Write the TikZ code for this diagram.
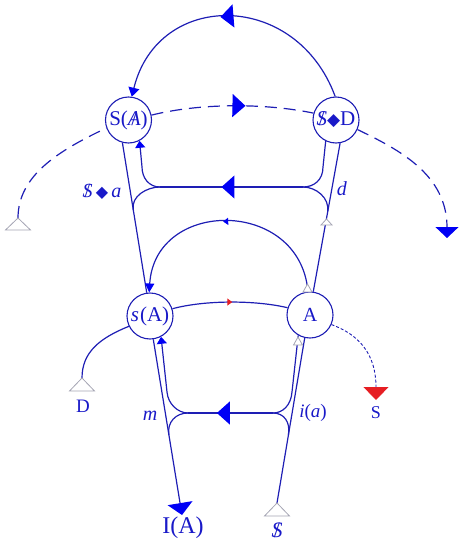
\documentclass[tikz,border=0pt]{standalone}
\usepackage{fontspec}
\setmainfont{Liberation Serif}
\newfontfamily\symfont{DejaVu Sans}
\usetikzlibrary{arrows.meta,decorations.markings}
\definecolor{lb}{RGB}{30,30,180}
\definecolor{ab}{RGB}{0,0,245}
\definecolor{tb}{RGB}{25,25,200}
\definecolor{gt}{RGB}{165,165,180}
\definecolor{rd}{RGB}{230,30,35}
\newcommand{\lacanA}{\ooalign{\itshape A\cr\hidewidth/\hidewidth\cr}}
\newcommand{\lacanS}{\ooalign{\itshape S\cr\hidewidth/\hidewidth\cr}}
\newcommand{\losange}[1]{{\symfont\fontsize{#1}{#1}\selectfont ◆}}
\tikzset{
  place/.style={circle, draw=lb, fill=white, line width=1.1pt, minimum size=46pt, inner sep=0pt, text=tb, font=\fontsize{21}{24}\selectfont},
  conn/.style={draw=lb, line width=1.2pt},
  bigmid/.style={decoration={markings, mark=at position #1 with {\arrow{Triangle[length=13pt,width=23pt,color=ab]}}}, postaction={decorate}},
  tinymid/.style={decoration={markings, mark=at position 0.52 with {\arrow{Triangle[length=5pt,width=7pt,color=#1]}}}, postaction={decorate}},
  opentri/.style={draw=gt, line width=0.8pt, fill=white},
  lbl/.style={text=tb, inner sep=0pt},
  longdash/.style={dash pattern=on 12pt off 7pt},
  shortdash/.style={dash pattern=on 3pt off 2pt, line width=0.9pt}
}
\begin{document}
\begin{tikzpicture}[x=1pt,y=-1pt]
\useasboundingbox (0,0) rectangle (466,546);
% nodes
\node[place] (SA) at (128.5,120) {S(\lacanA)};
\node[place] (SD) at (336,120) {\lacanS\losange{17}D};
\node[place] (sA) at (150,316) {\textit{s}\kern1pt(A)};
\node[place, font=\fontsize{20}{24}\selectfont] (A) at (310,315) {A};
% free ends and junctions
\coordinate (LT) at (18,218);
\coordinate (RT) at (447,238);
\coordinate (Dp) at (82,378);
\coordinate (Rp) at (376,400);
\coordinate (IAp) at (182,515);
\coordinate (Sp) at (277,503);
\coordinate (ur1) at (323,167);
\coordinate (urh) at (303,187);
\coordinate (ulh) at (160,187);
\coordinate (ul1) at (142,167);
\coordinate (urm) at (327.6,212);
\coordinate (ulm) at (133.2,210);
\coordinate (lr1) at (292,392);
\coordinate (lrh) at (273,413);
\coordinate (llh) at (188,413);
\coordinate (ll1) at (167,392);
\coordinate (llm) at (168.9,435);
\coordinate (lrm) at (288.4,435);
\coordinate (tUp) at (326.5,219);
\coordinate (tAt) at (307.5,284);
\coordinate (tAb) at (298,337);
% top arc
\draw[conn, -{Triangle[length=9pt,width=11pt,color=ab]}, bigmid=0.54]
  (SD.92) .. controls (296,-10) and (158,-10) .. (SA.82);
% dashed arc
\draw[conn, longdash] (LT) .. controls (18,175) and (60,150) .. (SA.200);
\draw[conn, longdash, bigmid=0.58] (SA.12) .. controls (200,103) and (265,103) .. (SD.163);
\draw[conn, longdash, -{Triangle[length=11pt,width=23pt,color=ab]}]
  (SD.-24) .. controls (400,150) and (447,175) .. (RT);
% upper verticals
\draw[conn] (SA.-105) -- (sA.98);
\draw[conn] (A.82) -- (SD.-80);
% upper bowtie
\draw[conn] (SD.-116) -- (ur1) .. controls (323,180) and (314,187) .. (urh);
\draw[conn, bigmid=0.57] (urh) -- (ulh);
\draw[conn, -{Triangle[length=7pt,width=10pt,color=ab]}] (ulh) .. controls (149,187) and (142,178) .. (ul1) -- (SA.-62);
\draw[conn] (urh) .. controls (316,187) and (330,198) .. (urm);
\draw[conn] (ulh) .. controls (147,187) and (130.9,196) .. (ulm);
% arc A -> s(A)
\draw[conn, tinymid=ab, -{Triangle[length=9pt,width=9pt,color=ab]}]
  (A.95) .. controls (300,198) and (155,198) .. (sA.92);
% s(A) -> A
\draw[conn, tinymid=rd] (sA.18) .. controls (205,300) and (255,300) .. (A.162);
% lower verticals
\draw[conn, -{Triangle[length=12pt,width=25pt,color=ab]}] (sA.-82) -- (IAp);
\draw[conn] (Sp) -- (A.-103);
% lower bowtie
\draw[conn] (A.-120) -- (lr1) .. controls (291,405) and (283,413) .. (lrh);
\draw[conn, bigmid=0.66] (lrh) -- (llh);
\draw[conn, -{Triangle[length=7pt,width=10pt,color=ab]}] (llh) .. controls (178,413) and (168,404) .. (ll1) -- (sA.-62);
\draw[conn] (llh) .. controls (176,413) and (166.8,422) .. (llm);
\draw[conn] (lrh) .. controls (284,413) and (290.6,422) .. (lrm);
% side arcs
\draw[conn] (sA.206) .. controls (100,338) and (82,352) .. (Dp);
\draw[conn, shortdash, -{Triangle[length=13pt,width=25pt,color=rd]}]
  (A.-24) .. controls (360,335) and (376,355) .. (Rp);
% open triangles
\draw[opentri] (LT) -- ++(-12.5,12) -- ++(25,0) -- cycle;
\draw[opentri] (Dp) -- ++(-12.5,13) -- ++(25,0) -- cycle;
\draw[opentri] (Sp) -- ++(-12.5,13) -- ++(25,0) -- cycle;
\draw[opentri] (tUp) -- ++(-5.5,6) -- ++(11,0) -- cycle;
\draw[opentri] (tAt) -- ++(-4.5,8) -- ++(9,0) -- cycle;
\draw[opentri] (tAb) -- ++(-4.5,8) -- ++(9,0) -- cycle;
% labels
\node[lbl, font=\fontsize{20}{22}\selectfont] (la) at (102,192) {\lacanS\,\losange{16}\,\textit{a}};
\node[lbl, font=\fontsize{20}{22}\selectfont] (ld) at (342,189) {\textit{d}};
\node[lbl, font=\fontsize{20}{22}\selectfont] (lm) at (150,416) {\textit{m}};
\node[lbl, font=\fontsize{19}{22}\selectfont] (li) at (313,413) {\textit{i}(\textit{a})};
\node[lbl, font=\fontsize{19}{22}\selectfont] (lD) at (83,406) {D};
\node[lbl, font=\fontsize{18}{20}\selectfont] (lS) at (376,413) {S};
\node[lbl, font=\fontsize{24}{26}\selectfont] (lI) at (183,528) {I(A)};
\node[lbl, font=\fontsize{22}{24}\selectfont] (lB) at (277,530) {\lacanS};
\end{tikzpicture}
\end{document}
